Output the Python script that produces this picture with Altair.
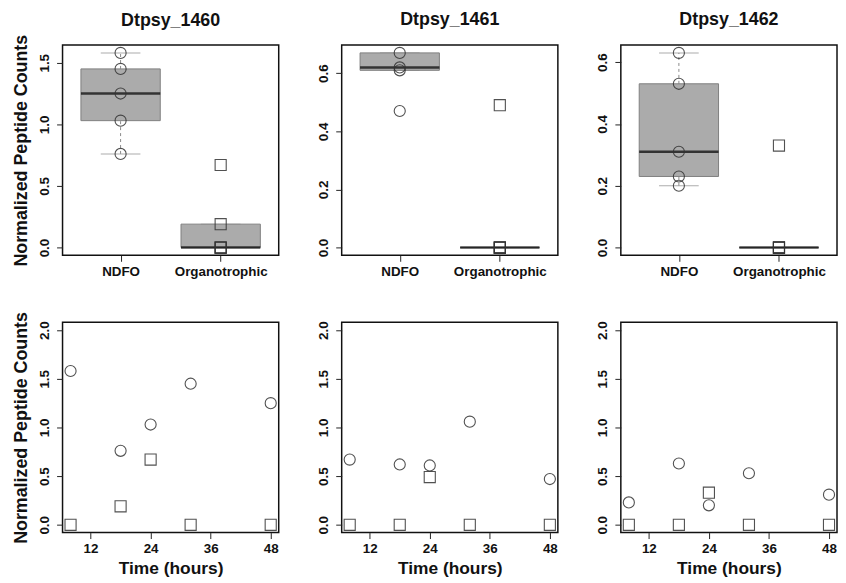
import altair as alt
import numpy as np
import pandas as pd

# ---------------- data ----------------
genes = ["Dtpsy_1460", "Dtpsy_1461", "Dtpsy_1462"]
conditions = ["NDFO", "Organotrophic"]
times = [8, 18, 24, 32, 48]
time_ticks = [12, 24, 36, 48]

ndfo_1460 = [1.58, 0.76, 1.03, 1.45, 1.25]
org_1460 = [0.0, 0.19, 0.67, 0.0, 0.0]
ndfo_1461 = [0.67, 0.62, 0.61, 1.06, 0.47]
org_1461 = [0.0, 0.0, 0.49, 0.0, 0.0]
ndfo_1462 = [0.23, 0.63, 0.20, 0.53, 0.31]
org_1462 = [0.0, 0.0, 0.33, 0.0, 0.0]

top_ticks_1460 = [0.0, 0.5, 1.0, 1.5]
top_ticks_1461 = [0.0, 0.1, 0.2, 0.3, 0.4, 0.5, 0.6]
top_ticks_1462 = [0.0, 0.1, 0.2, 0.3, 0.4, 0.5, 0.6]
bottom_yticks = [0.0, 0.5, 1.0, 1.5, 2.0]

ndfo_sets = [ndfo_1460, ndfo_1461, ndfo_1462]
org_sets = [org_1460, org_1461, org_1462]
top_ticks = [top_ticks_1460, top_ticks_1461, top_ticks_1462]

FONT = "Liberation Sans"
W, H = 218, 212
YTITLE = "Normalized Peptide Counts"
TITLE_OFFSETS = [-10, 2, 2]


def box_stats(vals):
    v = np.sort(np.array(vals, dtype=float))
    q1, med, q3 = np.quantile(v, [0.25, 0.5, 0.75])
    iqr = q3 - q1
    lo = v[v >= q1 - 1.5 * iqr].min()
    hi = v[v <= q3 + 1.5 * iqr].max()
    return dict(q1=q1, med=med, q3=q3, lo=lo, hi=hi)


def y_axis(ticks, title, label_expr=None, height=H):
    kw = dict(
        values=ticks, format=".1f", grid=False, domain=False,
        tickSize=6, tickColor="#222", labelAngle=270, labelAlign="center",
        labelBaseline="alphabetic", labelPadding=8.4, labelFont=FONT,
        labelFontWeight="bold", labelFontSize=13.5, labelColor="#111",
        titleFont=FONT, titleFontWeight="bold", titleFontSize=18,
        titleColor="#111", titleAngle=270, titleBaseline="alphabetic",
        titleAlign="center", titleX=-36.2, titleY=height / 2,
    )
    if label_expr:
        kw["labelExpr"] = label_expr
    return alt.Axis(title=title, **kw) if title else alt.Axis(title=None, **kw)


def top_panel(i):
    nd, og = ndfo_sets[i], org_sets[i]
    pts = pd.DataFrame({"cond": ["NDFO"] * len(nd) + ["Organotrophic"] * len(og),
                        "value": nd + og})
    rows = []
    for c, vals in zip(conditions, [nd, og]):
        s = box_stats(vals)
        s["cond"] = c
        rows.append(s)
    st = pd.DataFrame(rows)
    lo = min(st["lo"].min(), 0.0)
    hi = st["hi"].max()
    pad = 0.04 * (hi - lo)
    ysc = alt.Scale(domain=[lo - pad, hi + pad], nice=False, zero=False)
    xsc = alt.Scale(type="point", padding=0.58, domain=conditions)
    xax = alt.Axis(title=None, labelAngle=0, grid=False, domain=False, tickSize=6,
                   tickColor="#222", labelBaseline="alphabetic", labelPadding=14.4,
                   labelFont=FONT, labelFontWeight="bold", labelFontSize=13.5,
                   labelColor="#111")
    lab_expr = None
    if i > 0:
        lab_expr = "(round(datum.value*10) % 2 == 0) ? format(datum.value, '.1f') : ''"
    yax = y_axis(top_ticks[i], YTITLE if i == 0 else None, lab_expr)
    X = alt.X("cond:N", scale=xsc, axis=xax)

    base = alt.Chart(st)
    whisk = pd.concat([
        st.assign(a=st["q3"], b=st["hi"]),
        st.assign(a=st["lo"], b=st["q1"]),
    ])
    staples = pd.concat([st.assign(s=st["hi"]), st.assign(s=st["lo"])])
    w = alt.Chart(whisk).mark_rule(color="#8a8a8a", strokeDash=[3, 3], strokeWidth=1).encode(
        x=X, y=alt.Y("a:Q", scale=ysc, axis=yax), y2="b:Q")
    sp = alt.Chart(staples).mark_tick(color="#8a8a8a", size=40, thickness=1).encode(
        x=X, y=alt.Y("s:Q", scale=ysc))
    box = base.mark_bar(size=80, fill="#ababab", stroke="#808080", strokeWidth=1).encode(
        x=X, y=alt.Y("q1:Q", scale=ysc), y2="q3:Q")
    med = base.mark_tick(color="black", size=80, thickness=2.5).encode(
        x=X, y=alt.Y("med:Q", scale=ysc))
    p = alt.Chart(pts).mark_point(filled=False, size=125, strokeWidth=1.1, color="#333",
                                  opacity=0.85, clip=True).encode(
        x=X, y=alt.Y("value:Q", scale=ysc),
        shape=alt.Shape("cond:N", scale=alt.Scale(domain=conditions, range=["circle", "square"]),
                        legend=None))
    return alt.layer(w, sp, box, med, p).properties(
        width=W, height=H,
        title=alt.TitleParams(genes[i], font=FONT, fontSize=18, fontWeight="bold", color="#111",
                              anchor="middle", frame="group", baseline="alphabetic",
                              offset=TITLE_OFFSETS[i]))


def bottom_panel(i):
    nd, og = ndfo_sets[i], org_sets[i]
    df = pd.DataFrame({"time": times + times,
                       "value": nd + og,
                       "cond": ["NDFO"] * len(nd) + ["Organotrophic"] * len(og)})
    tpad = 0.04 * (max(times) - min(times))
    xsc = alt.Scale(domain=[min(times) - tpad, max(times) + tpad], nice=False, zero=False)
    ypad = 0.04 * (bottom_yticks[-1] - bottom_yticks[0])
    ysc = alt.Scale(domain=[bottom_yticks[0] - ypad, bottom_yticks[-1] + ypad], nice=False, zero=False)
    xax = alt.Axis(values=time_ticks, format="d", title="Time (hours)", grid=False, domain=False,
                   tickSize=6, tickColor="#222", labelBaseline="alphabetic", labelPadding=14.4,
                   labelFont=FONT, labelFontWeight="bold", labelFontSize=13.5, labelColor="#111",
                   labelFlush=False, labelOverlap=False,
                   titleFont=FONT, titleFontWeight="bold", titleFontSize=17.5, titleColor="#111",
                   titleBaseline="alphabetic", titleAlign="center", titleX=W / 2, titleY=41.4)
    yax = y_axis(bottom_yticks, YTITLE if i == 0 else None)
    return alt.Chart(df).mark_point(filled=False, size=125, strokeWidth=1.1, color="#333",
                                    opacity=0.85).encode(
        x=alt.X("time:Q", scale=xsc, axis=xax),
        y=alt.Y("value:Q", scale=ysc, axis=yax),
        shape=alt.Shape("cond:N", scale=alt.Scale(domain=conditions, range=["circle", "square"]),
                        legend=None),
    ).properties(width=W, height=H)


panels = [top_panel(i) for i in range(3)] + [bottom_panel(i) for i in range(3)]

chart = alt.concat(*panels, columns=3, spacing={"row": 67.6, "column": 63.5},
                   bounds="flush").properties(
    padding={"left": 4, "top": 0, "right": 0, "bottom": 0},
    background="white",
).configure_view(stroke="#111", strokeWidth=1.5, fill="white")

chart.save("out.html", embed_options={"renderer": "svg", "actions": False})
